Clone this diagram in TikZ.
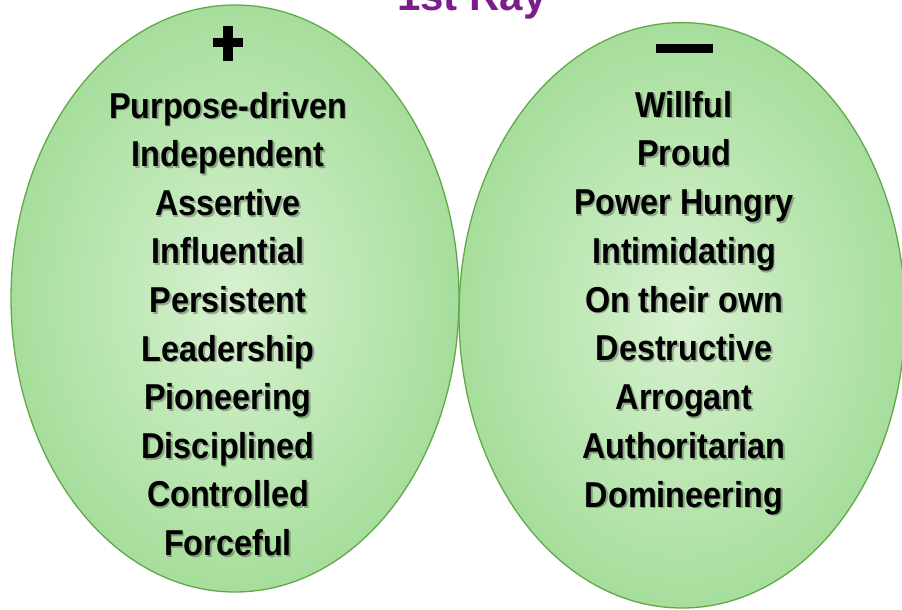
\documentclass[tikz,border=0pt]{standalone}
\usepackage{fontspec}
\setmainfont{Liberation Sans}[FakeStretch=0.9]
\newfontfamily\titlefont{Liberation Sans}
\definecolor{ovalin}{HTML}{D8F1D0}
\definecolor{ovalout}{HTML}{A6DE9C}
\definecolor{ovalline}{HTML}{62A84A}
\definecolor{titlepurple}{HTML}{7A1E8C}
\tikzset{
  word/.style={anchor=base, inner sep=0pt, text=black, font=\fontsize{36}{36}\selectfont\bfseries},
  wordshadow/.style={word, text=black, text opacity=0.28},
  titletext/.style={anchor=base, inner sep=0pt, text=titlepurple, font=\titlefont\fontsize{42}{42}\selectfont\bfseries},
  ovalfill/.style={inner color=ovalin, outer color=ovalout},
  ovaledge/.style={draw=ovalline, line width=1.3pt},
}
\begin{document}
\begin{tikzpicture}[x=1pt,y=-1pt]
\useasboundingbox (0,0) rectangle (902,610);
\clip (0,0) rectangle (902,610);
% title (cut off at the top)
\node[titletext] (title) at (472,11) {1st Ray};
% ovals
\coordinate (lc) at (235,298.5);
\coordinate (rc) at (682,315.3);
\shade[ovalfill] (lc) ellipse [x radius=224pt, y radius=293.5pt];
\shade[ovalfill] (rc) ellipse [x radius=223pt, y radius=292.7pt];
\draw[ovaledge] (lc) ellipse [x radius=224pt, y radius=293.5pt];
\draw[ovaledge] (rc) ellipse [x radius=223pt, y radius=292.7pt];
% plus and minus signs
\fill[black] (223,26) rectangle (233,61);
\fill[black] (213,38) rectangle (243,47);
\fill[black] (656,44) rectangle (713,53);
% left list
\foreach \w [count=\i from 0] in {Purpose-driven,Independent,Assertive,Influential,Persistent,Leadership,Pioneering,Disciplined,Controlled,Forceful}{
  \node[wordshadow] at (229.8,119.8+48.6*\i) {\w};
  \node[word] (L\i) at (228,118+48.6*\i) {\w};
}
% right list
\foreach \w [count=\i from 0] in {Willful,Proud,Power Hungry,Intimidating,On their own,Destructive,Arrogant,Authoritarian,Domineering}{
  \node[wordshadow] at (685.8,118.8+48.75*\i) {\w};
  \node[word] (R\i) at (684,117+48.75*\i) {\w};
}
\end{tikzpicture}
\end{document}
